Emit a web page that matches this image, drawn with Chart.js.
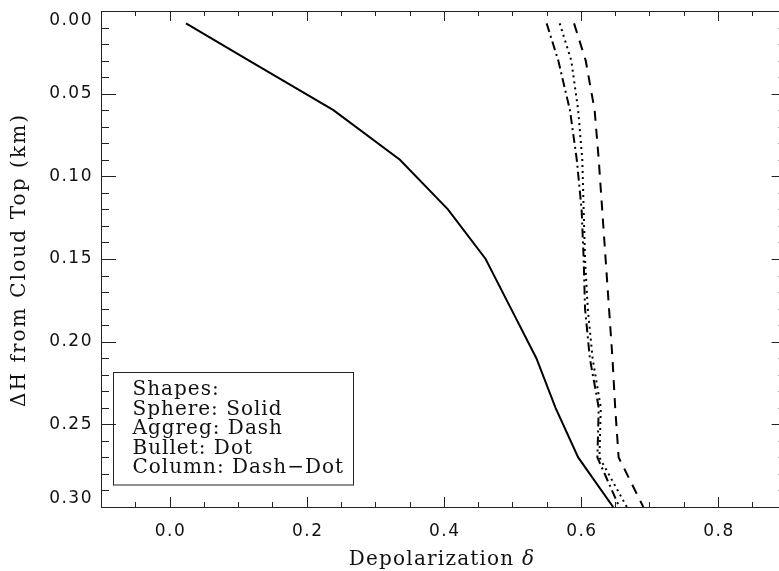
<!DOCTYPE html>
<html>
<head>
<meta charset="utf-8">
<script src="https://cdn.jsdelivr.net/npm/chart.js@4"></script>
<style>
  html, body { margin: 0; padding: 0; overflow: hidden; background: #fff; }
  #wrap { width: 800px; height: 571px; }
</style>
</head>
<body>
<div id="wrap"><canvas id="depolChart" width="800" height="571"></canvas></div>
<script>
// depth below cloud top (km) and depolarization for each shape
const depthKm   = [0.0075, 0.03, 0.06, 0.09, 0.12, 0.15, 0.18, 0.21, 0.24, 0.27, 0.30];
const sphereDep = [0.024, 0.116, 0.239, 0.336, 0.406, 0.461, 0.498, 0.535, 0.563, 0.596, 0.647];
const aggregDep = [0.590, 0.607, 0.620, 0.626, 0.631, 0.636, 0.641, 0.646, 0.650, 0.655, 0.691];
const bulletDep = [0.569, 0.586, 0.596, 0.602, 0.604, 0.606, 0.610, 0.617, 0.629, 0.627, 0.667];
const columnDep = [0.550, 0.567, 0.584, 0.594, 0.601, 0.604, 0.606, 0.613, 0.626, 0.624, 0.656];

const xTickValues = [0.0, 0.2, 0.4, 0.6, 0.8];
const xTickLabels = ['0.0', '0.2', '0.4', '0.6', '0.8'];
const yTickValues = [0.00, 0.05, 0.10, 0.15, 0.20, 0.25, 0.30];
const yTickLabels = ['0.00', '0.05', '0.10', '0.15', '0.20', '0.25', '0.30'];

const legendLines = ['Shapes:', 'Sphere: Solid', 'Aggreg: Dash', 'Bullet: Dot', 'Column: Dash\u2212Dot'];

function toPoints(xs) {
    return xs.map((v, i) => ({ x: v, y: depthKm[i] }));
}

function makeSet(label, values, dash) {
    return {
        label: label,
        data: toPoints(values),
        borderColor: '#000',
        borderWidth: 2,
        borderDash: dash,
        pointRadius: 0,
        tension: 0,
        fill: false
    };
}

// IDL style frame: inward ticks on all four sides, labels, titles, text box
const framePlugin = {
    id: 'idlFrame',
    afterDatasetsDraw(chart) {
        const { ctx, chartArea: a, scales: { x, y } } = chart;
        ctx.save();
        ctx.strokeStyle = '#222';
        ctx.lineWidth = 1;
        ctx.strokeRect(a.left + 0.5, a.top + 0.5, a.right - a.left, a.bottom - a.top);

        ctx.beginPath();
        for (let i = -1; i <= 18; i++) {
            const px = Math.round(x.getPixelForValue(i * 0.05)) + 0.5;
            const len = (i % 4 === 0) ? 10 : 5;
            ctx.moveTo(px, a.bottom); ctx.lineTo(px, a.bottom - len);
            ctx.moveTo(px, a.top); ctx.lineTo(px, a.top + len);
        }
        for (let i = 1; i < 30; i++) {
            const py = Math.round(y.getPixelForValue(i * 0.01)) + 0.5;
            const len = (i % 5 === 0) ? 15 : 8;
            ctx.moveTo(a.left, py); ctx.lineTo(a.left + len, py);
            ctx.moveTo(a.right, py); ctx.lineTo(a.right - len, py);
        }
        ctx.stroke();

        // tick labels
        ctx.fillStyle = '#111';
        ctx.font = '17px "DejaVu Sans"';
        ctx.letterSpacing = '1.5px';
        ctx.textBaseline = 'middle';
        ctx.textAlign = 'right';
        yTickValues.forEach((v, i) => {
            let py = y.getPixelForValue(v);
            if (i === 0) py += 10;
            if (i === yTickValues.length - 1) py -= 8;
            ctx.fillText(yTickLabels[i], 93, py);
        });
        ctx.textAlign = 'center';
        xTickValues.forEach((v, i) => {
            ctx.fillText(xTickLabels[i], x.getPixelForValue(v) + 1, a.bottom + 25);
        });

        // axis titles
        ctx.textBaseline = 'alphabetic';
        ctx.textAlign = 'left';
        ctx.letterSpacing = '1.2px';
        ctx.font = '20px "DejaVu Serif"';
        const main = 'Depolarization ';
        const wMain = ctx.measureText(main).width;
        ctx.font = 'italic 20px "DejaVu Serif"';
        const wDelta = ctx.measureText('\u03b4').width;
        const x0 = 442 - (wMain + wDelta) / 2;
        ctx.font = '20px "DejaVu Serif"';
        ctx.fillText(main, x0, 565);
        ctx.font = 'italic 20px "DejaVu Serif"';
        ctx.fillText('\u03b4', x0 + wMain, 565);

        ctx.save();
        ctx.translate(25, 260);
        ctx.rotate(-Math.PI / 2);
        ctx.font = '20px "DejaVu Serif"';
        ctx.letterSpacing = '2.1px';
        ctx.textAlign = 'center';
        ctx.fillText('\u0394H from Cloud Top (km)', 0, 0);
        ctx.restore();

        // shapes box
        ctx.strokeStyle = '#222';
        ctx.strokeRect(113.5, 372.5, 240, 112.5);
        ctx.font = '20px "DejaVu Serif"';
        ctx.letterSpacing = '1px';
        ctx.textAlign = 'left';
        legendLines.forEach((t, i) => {
            ctx.fillText(t, 132.5, 395 + i * 19.5);
        });
        ctx.restore();
    }
};

new Chart(document.getElementById('depolChart'), {
    type: 'line',
    data: {
        datasets: [
            makeSet('Sphere', sphereDep, []),
            makeSet('Aggreg', aggregDep, [10, 8]),
            makeSet('Bullet', bulletDep, [2, 4]),
            makeSet('Column', columnDep, [9, 4, 2, 4])
        ]
    },
    options: {
        responsive: false,
        animation: false,
        layout: { padding: { left: 101, top: 11, right: 13.4, bottom: 64 } },
        plugins: {
            legend: { display: false },
            tooltip: { enabled: false }
        },
        scales: {
            x: { type: 'linear', min: -0.1, max: 0.9, display: false },
            y: { type: 'linear', min: 0, max: 0.3, reverse: true, display: false }
        }
    },
    plugins: [framePlugin]
});
</script>
</body>
</html>
